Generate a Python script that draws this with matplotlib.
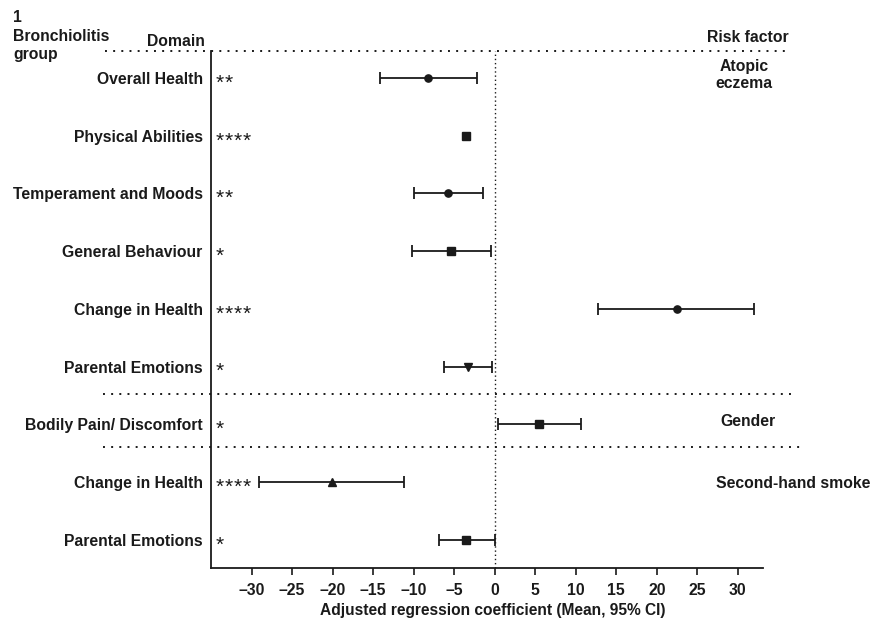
import matplotlib
matplotlib.use("Agg")
import matplotlib.pyplot as plt

plt.rcParams['font.family'] = ['Liberation Sans', 'DejaVu Sans']

domains = ["Overall Health", "Physical Abilities", "Temperament and Moods",
           "General Behaviour", "Change in Health", "Parental Emotions",
           "Bodily Pain/ Discomfort", "Change in Health", "Parental Emotions"]
stars = ["**", "****", "**", "*", "****", "*", "*", "****", "*"]
means = [-8.2, -3.6, -5.7, -5.4, 22.5, -3.3, 5.5, -20.1, -3.5]
lower = [-14.2, -3.6, -10.0, -10.2, 12.8, -6.2, 0.4, -29.1, -6.9]
upper = [-2.2, -3.6, -1.4, -0.5, 32.0, -0.3, 10.6, -11.2, 0.0]
markers = ["o", "s", "o", "s", "o", "v", "s", "^", "s"]
msizes = [5.2, 5.4, 5.2, 5.6, 5.2, 6, 6.3, 6, 5.6]
xticks = [-30, -25, -20, -15, -10, -5, 0, 5, 10, 15, 20, 25, 30]

W, H = 873, 621
fig = plt.figure(figsize=(W / 100, H / 100), dpi=100)
ax_l, ax_r, ax_t, ax_b = 211, 763, 51, 567.7
ax = fig.add_axes([ax_l / W, 1 - ax_b / H, (ax_r - ax_l) / W, (ax_b - ax_t) / H])

ax.set_xlim(-35, 33.1)
ax.set_ylim(8.487, -0.468)
col = "#1a1a1a"
for i in range(len(domains)):
    cs = 4.5 if upper[i] > lower[i] else 0
    ax.errorbar(means[i], i, xerr=[[means[i] - lower[i]], [upper[i] - means[i]]],
                fmt=markers[i], ms=msizes[i], color=col, ecolor=col,
                elinewidth=1.3, capsize=cs, capthick=1.3, zorder=3)
    for k, ch in enumerate(stars[i]):
        ax.annotate(ch, xy=(-35, i + 0.092), xytext=(3.3 + k * 6.6, 0),
                    textcoords="offset points", ha="left", va="center",
                    fontsize=15, color=col, annotation_clip=False)

ax.axvline(0, color=col, ls=(0, (1, 2)), lw=1.0, zorder=1)

ax.set_yticks(range(len(domains)))
ax.set_yticklabels(domains, fontsize=11.3, fontweight="bold", color=col)
ax.tick_params(axis="y", length=0, pad=6)
ax.set_xticks(xticks)
ax.set_xticklabels([("\u2013" + str(-v)) if v < 0 else str(v) for v in xticks],
                   fontsize=11.3, fontweight="bold", color=col)
ax.tick_params(axis="x", length=5, width=1.2, color=col, pad=6)
for s in ["top", "right"]:
    ax.spines[s].set_visible(False)
for s in ["left", "bottom"]:
    ax.spines[s].set_linewidth(1.3)
    ax.spines[s].set_color(col)

# horizontal dotted separators (figure coords)
def hline(ypix, x0, x1):
    fig.add_artist(plt.Line2D([x0 / W, x1 / W], [1 - ypix / H, 1 - ypix / H],
                              color=col, lw=1.4, ls=(0, (1, 3.2))))

hline(51, 105, 788)
hline(394, 103, 795)
hline(447, 103, 802)

fig.text(493 / W, 1 - 610 / H, "Adjusted regression coefficient (Mean, 95% CI)",
         ha="center", va="center", fontsize=11.2, fontweight="bold", color=col)
fig.text(13 / W, 1 - 10 / H, "1\nBronchiolitis\ngroup", ha="left", va="top",
         fontsize=11.3, fontweight="bold", color=col, linespacing=1.3)
fig.text(205 / W, 1 - 42 / H, "Domain", ha="right", va="center",
         fontsize=11.3, fontweight="bold", color=col)
fig.text(748 / W, 1 - 38 / H, "Risk factor", ha="center", va="center",
         fontsize=11.3, fontweight="bold", color=col)
fig.text(744 / W, 1 - 75 / H, "Atopic\neczema", ha="center", va="center",
         fontsize=11.3, fontweight="bold", color=col, linespacing=1.25)
fig.text(748 / W, 1 - 422 / H, "Gender", ha="center", va="center",
         fontsize=11.3, fontweight="bold", color=col)
fig.text(793 / W, 1 - 484 / H, "Second-hand smoke", ha="center", va="center",
         fontsize=11.3, fontweight="bold", color=col)

fig.savefig("out.png", dpi=100)
